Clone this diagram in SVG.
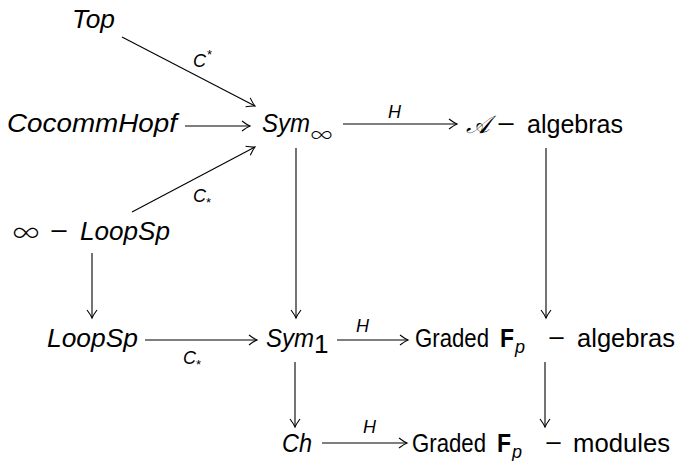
<svg xmlns="http://www.w3.org/2000/svg" width="680" height="461" viewBox="0 0 680 461">
<style>
.m{font-family:"Liberation Sans",Arial,sans-serif;font-style:italic;font-size:25px;fill:#000}
.t{font-family:"Liberation Sans",Arial,sans-serif;font-size:26px;fill:#000}
.b{font-family:"Liberation Sans",Arial,sans-serif;font-weight:bold;font-size:26px;fill:#000}
.sy{font-family:Inter,"Open Sans",sans-serif;font-weight:200;fill:#000}
.l{font-family:"Liberation Sans",Arial,sans-serif;font-style:italic;font-size:18px;fill:#000}
.ls{font-family:"Liberation Sans",Arial,sans-serif;font-size:13px;fill:#000}
#edges line{stroke:#000;stroke-width:1.1;marker-end:url(#a)}
</style>
<defs>
<marker id="a" markerUnits="userSpaceOnUse" markerWidth="12" markerHeight="12" viewBox="-10 -6 12 12" refX="0" refY="0" orient="auto">
<path d="M-8,-5 Q-3,-1.2 0,0 Q-3,1.2 -8,5" fill="none" stroke="#000" stroke-width="1.1"/>
</marker>
</defs>
<g id="edges">
<line x1="122" y1="37" x2="255" y2="106"/>
<line x1="185" y1="126" x2="250" y2="126"/>
<line x1="132" y1="212" x2="255" y2="147"/>
<line x1="343" y1="124" x2="457" y2="124"/>
<line x1="296" y1="148" x2="296" y2="318"/>
<line x1="546" y1="148" x2="546" y2="318"/>
<line x1="92" y1="253" x2="92" y2="318"/>
<line x1="145" y1="340" x2="257" y2="340"/>
<line x1="337" y1="340" x2="408" y2="340"/>
<line x1="295" y1="362" x2="295" y2="427"/>
<line x1="545" y1="362" x2="545" y2="427"/>
<line x1="322" y1="443" x2="407" y2="443"/>
<text class="l" x="193" y="67">C</text><text class="ls" x="207" y="59">*</text>
<text class="l" x="193" y="202">C</text><text class="ls" x="206" y="207">*</text>
<text class="l" x="183" y="364">C</text><text class="ls" x="196" y="369">*</text>
<text class="l" x="388" y="118">H</text>
<text class="l" x="356" y="332">H</text>
<text class="l" x="363" y="433">H</text>
</g>
<g id="top"><text class="m" x="72" y="28" textLength="43" lengthAdjust="spacingAndGlyphs">Top</text></g>
<g id="cocomm"><text class="m" x="7" y="132" textLength="170" lengthAdjust="spacingAndGlyphs">CocommHopf</text></g>
<g id="syminf"><text class="m" x="262" y="132" textLength="48" lengthAdjust="spacingAndGlyphs">Sym</text><text class="sy" x="310" y="142" font-size="22" textLength="23" lengthAdjust="spacingAndGlyphs">∞</text></g>
<g id="aalg"><text class="m" x="466" y="133" font-size="27" font-family="DejaVu Serif">𝒜</text><text class="t" x="497" y="133" textLength="18" lengthAdjust="spacingAndGlyphs">−</text><text class="t" x="527" y="133" textLength="96" lengthAdjust="spacingAndGlyphs">algebras</text></g>
<g id="infloop"><text class="sy" x="12" y="242" font-size="30" textLength="28" lengthAdjust="spacingAndGlyphs">∞</text><text class="t" x="50" y="240" textLength="18" lengthAdjust="spacingAndGlyphs">−</text><text class="m" x="80" y="240" textLength="90" lengthAdjust="spacingAndGlyphs">LoopSp</text></g>
<g id="loop"><text class="m" x="47" y="347" textLength="91" lengthAdjust="spacingAndGlyphs">LoopSp</text></g>
<g id="sym1"><text class="m" x="266" y="347" textLength="48" lengthAdjust="spacingAndGlyphs">Sym</text><text class="t" x="314" y="353" font-size="18">1</text></g>
<g id="gradalg"><text class="t" x="415" y="347" textLength="74" lengthAdjust="spacingAndGlyphs">Graded</text><text class="b" x="500" y="347" textLength="14" lengthAdjust="spacingAndGlyphs">F</text><text class="l" x="515" y="353">p</text><text class="t" x="548" y="347" textLength="17" lengthAdjust="spacingAndGlyphs">−</text><text class="t" x="577" y="347" textLength="98" lengthAdjust="spacingAndGlyphs">algebras</text></g>
<g id="ch"><text class="m" x="282" y="452" textLength="30" lengthAdjust="spacingAndGlyphs">Ch</text></g>
<g id="gradmod"><text class="t" x="412" y="452" textLength="74" lengthAdjust="spacingAndGlyphs">Graded</text><text class="b" x="497" y="452" textLength="14" lengthAdjust="spacingAndGlyphs">F</text><text class="l" x="512" y="458">p</text><text class="t" x="545" y="452" textLength="17" lengthAdjust="spacingAndGlyphs">−</text><text class="t" x="573" y="452" textLength="97" lengthAdjust="spacingAndGlyphs">modules</text></g>
</svg>
